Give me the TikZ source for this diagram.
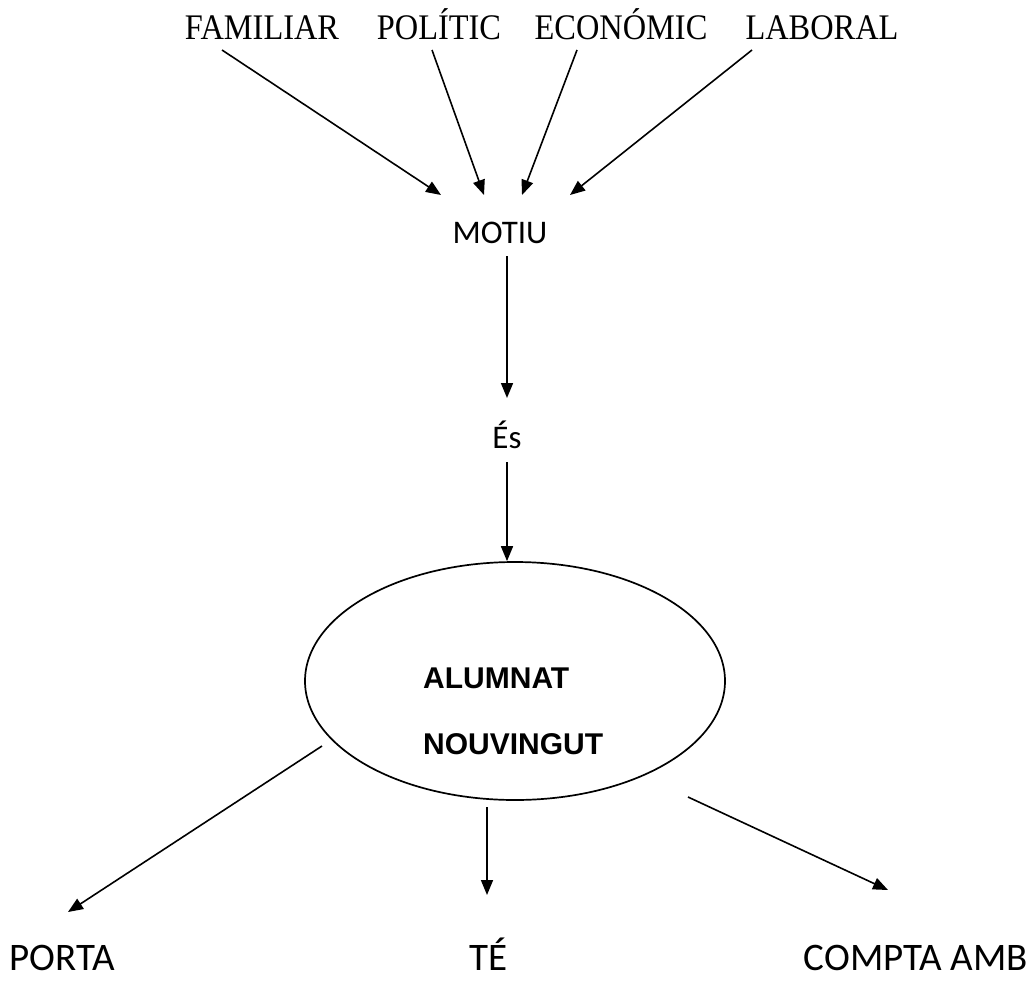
\documentclass[tikz,border=0pt]{standalone}
\usepackage{fontspec}
\setmainfont{Liberation Serif}
\newfontfamily\topfont[FakeStretch=0.9]{Liberation Serif}
\newfontfamily\calfont{Carlito}
\newfontfamily\arialfont{Liberation Sans}
\usetikzlibrary{arrows.meta,shapes.geometric}
\begin{document}
\begin{tikzpicture}[x=1pt,y=-1pt,
  arr/.style={line width=1.6pt,-{Triangle[length=15pt,width=12pt]}},
  toplbl/.style={inner sep=0pt,anchor=base,font=\topfont\fontsize{36}{42}\selectfont},
  callbl/.style={inner sep=0pt,anchor=base,font=\calfont\fontsize{33}{40}\selectfont},
  botlbl/.style={inner sep=0pt,anchor=base,font=\calfont\fontsize{39}{46}\selectfont},
  boldlbl/.style={inner sep=0pt,anchor=base west,font=\arialfont\bfseries\fontsize{30}{34}\selectfont}]
\useasboundingbox (0,0) rectangle (1033,993);
% top labels
\node[toplbl] (fam) at (262,39) {FAMILIAR};
\node[toplbl] (pol) at (439,39) {POLÍTIC};
\node[toplbl] (eco) at (621,39) {ECONÓMIC};
\node[toplbl] (lab) at (822,39) {LABORAL};
\coordinate (famS) at (222,50);
\coordinate (polS) at (432,50);
\coordinate (ecoS) at (577,50);
\coordinate (labS) at (752,50);
\coordinate (famE) at (441,195);
\coordinate (polE) at (484,195);
\coordinate (ecoE) at (522,195);
\coordinate (labE) at (570,195);
\draw[arr] (famS) -- (famE);
\draw[arr] (polS) -- (polE);
\draw[arr] (ecoS) -- (ecoE);
\draw[arr] (labS) -- (labE);
% motiu
\node[callbl] (motiu) at (500,243) {MOTIU};
\coordinate (m1) at (507,256);
\coordinate (m2) at (507,398);
\draw[arr] (m1) -- (m2);
\node[callbl] (es) at (507,448) {És};
\coordinate (e1) at (507,462);
\node[draw,ellipse,line width=1.7pt,minimum width=420pt,minimum height=238pt,inner sep=0pt] (ell) at (515,681) {};
\draw[arr] (e1) -- (ell.north -| e1);
\node[boldlbl] (alu) at (423,688) {ALUMNAT};
\node[boldlbl] (nou) at (423,754) {NOUVINGUT};
% bottom
\coordinate (l1) at (322,746);
\coordinate (l2) at (68,912);
\coordinate (c1) at (487,807);
\coordinate (c2) at (487,895);
\coordinate (r1) at (688,797);
\coordinate (r2) at (888,890);
\draw[arr] (l1) -- (l2);
\draw[arr] (c1) -- (c2);
\draw[arr] (r1) -- (r2);
\node[botlbl] (porta) at (62,970) {PORTA};
\node[botlbl] (te) at (489,970) {TÉ};
\node[botlbl,anchor=base east] (compta) at (1028,970) {COMPTA AMB};
\end{tikzpicture}
\end{document}
